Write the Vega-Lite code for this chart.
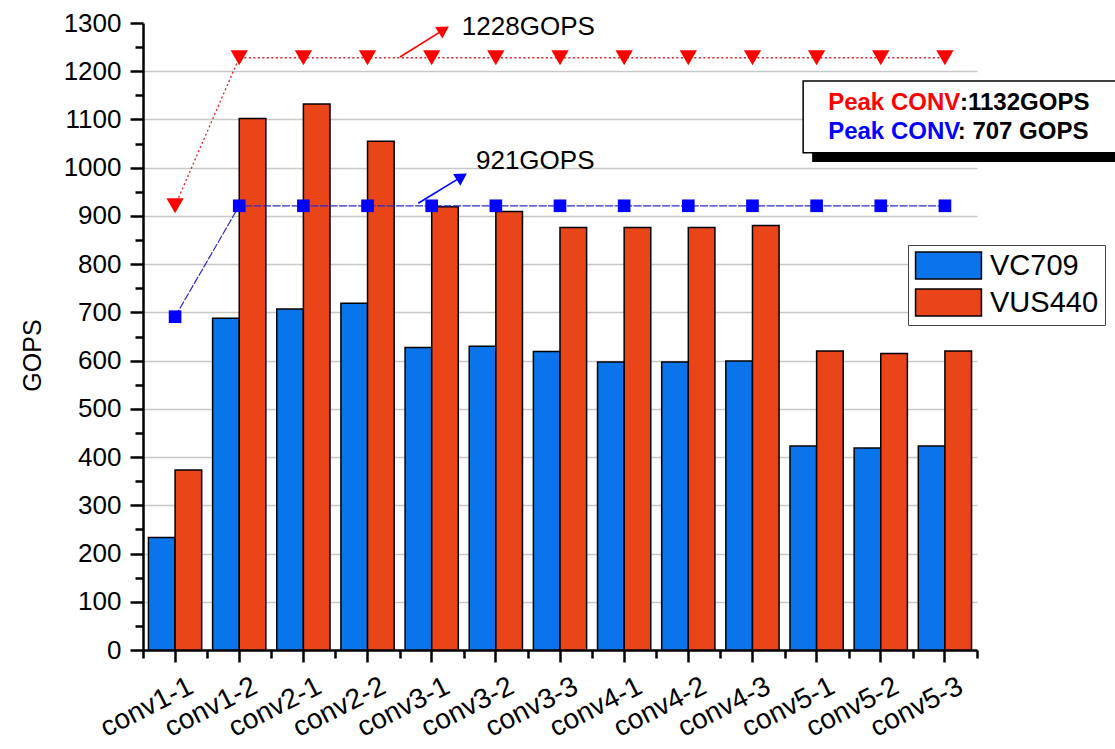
{
  "$schema": "https://vega.github.io/schema/vega-lite/v6.json",
  "width": 834,
  "height": 627,
  "autosize": {"type": "none"},
  "padding": {"left": 143, "top": 23, "right": 138, "bottom": 99},
  "background": "white",
  "config": {
    "font": "Liberation Sans",
    "numberFormat": "d",
    "view": {"stroke": null},
    "axis": {"labelFont": "Liberation Sans", "labelColor": "black", "tickColor": "black", "domainColor": "black", "titleColor": "black", "titleFont": "Liberation Sans", "labelFontSize": 26, "titleFontSize": 25, "titleFontWeight": "normal", "tickWidth": 2.5, "domainWidth": 2.5},
    "legend": {"labelFont": "Liberation Sans"}
  },
  "datasets": {
    "bars": [
      {"layer": "conv1-1", "board": "VC709", "gops": 233}, {"layer": "conv1-1", "board": "VUS440", "gops": 373},
      {"layer": "conv1-2", "board": "VC709", "gops": 688}, {"layer": "conv1-2", "board": "VUS440", "gops": 1102},
      {"layer": "conv2-1", "board": "VC709", "gops": 707}, {"layer": "conv2-1", "board": "VUS440", "gops": 1132},
      {"layer": "conv2-2", "board": "VC709", "gops": 719}, {"layer": "conv2-2", "board": "VUS440", "gops": 1055},
      {"layer": "conv3-1", "board": "VC709", "gops": 627}, {"layer": "conv3-1", "board": "VUS440", "gops": 919},
      {"layer": "conv3-2", "board": "VC709", "gops": 630}, {"layer": "conv3-2", "board": "VUS440", "gops": 909},
      {"layer": "conv3-3", "board": "VC709", "gops": 619}, {"layer": "conv3-3", "board": "VUS440", "gops": 876},
      {"layer": "conv4-1", "board": "VC709", "gops": 597}, {"layer": "conv4-1", "board": "VUS440", "gops": 876},
      {"layer": "conv4-2", "board": "VC709", "gops": 597}, {"layer": "conv4-2", "board": "VUS440", "gops": 876},
      {"layer": "conv4-3", "board": "VC709", "gops": 599}, {"layer": "conv4-3", "board": "VUS440", "gops": 880},
      {"layer": "conv5-1", "board": "VC709", "gops": 423}, {"layer": "conv5-1", "board": "VUS440", "gops": 620},
      {"layer": "conv5-2", "board": "VC709", "gops": 419}, {"layer": "conv5-2", "board": "VUS440", "gops": 615},
      {"layer": "conv5-3", "board": "VC709", "gops": 423}, {"layer": "conv5-3", "board": "VUS440", "gops": 620}
    ],
    "peaks": [
      {"layer": "conv1-1", "vus": 921, "vc": 691},
      {"layer": "conv1-2", "vus": 1228, "vc": 921},
      {"layer": "conv2-1", "vus": 1228, "vc": 921},
      {"layer": "conv2-2", "vus": 1228, "vc": 921},
      {"layer": "conv3-1", "vus": 1228, "vc": 921},
      {"layer": "conv3-2", "vus": 1228, "vc": 921},
      {"layer": "conv3-3", "vus": 1228, "vc": 921},
      {"layer": "conv4-1", "vus": 1228, "vc": 921},
      {"layer": "conv4-2", "vus": 1228, "vc": 921},
      {"layer": "conv4-3", "vus": 1228, "vc": 921},
      {"layer": "conv5-1", "vus": 1228, "vc": 921},
      {"layer": "conv5-2", "vus": 1228, "vc": 921},
      {"layer": "conv5-3", "vus": 1228, "vc": 921}
    ]
  },
  "resolve": {"scale": {"x": "independent"}, "axis": {"y": "independent", "x": "independent"}},
  "layer": [
    {
      "layer": [
        {
          "data": {"name": "bars"},
          "mark": {"type": "bar", "stroke": "black", "strokeWidth": 1.5},
          "encoding": {
            "x": {"field": "layer", "type": "nominal",
              "scale": {"paddingInner": 0.17, "paddingOuter": 0.085},
              "axis": {"title": null, "labelFontSize": 28, "labelAngle": -27, "labelAlign": "right", "labelBaseline": "top", "labelPadding": 10, "labelOffset": 10, "tickSize": 12, "grid": false}},
            "xOffset": {"field": "board", "type": "nominal", "scale": {"paddingInner": 0, "paddingOuter": 0}},
            "y": {"field": "gops", "type": "quantitative",
              "scale": {"domain": [0, 1300], "nice": false},
              "axis": {"title": "GOPS", "titleFontSize": 25, "titleFontWeight": "normal", "titlePadding": 18, "titleY": 332, "format": "d",
                "values": [0, 100, 200, 300, 400, 500, 600, 700, 800, 900, 1000, 1100, 1200, 1300],
                "labelFontSize": 26, "labelPadding": 9, "tickSize": 13,
                "grid": true, "gridWidth": 1.3,
                "gridColor": {"condition": {"test": "datum.value == 1300 || datum.value == 0", "value": "transparent"}, "value": "#c8c8c8"}}},
            "color": {"field": "board", "type": "nominal",
              "scale": {"domain": ["VC709", "VUS440"], "range": ["#0a74ea", "#e94519"]},
              "legend": {"title": null, "orient": "none", "legendX": 765, "legendY": 222,
                "symbolType": "M-2.44,-1H2.44V1H-2.44Z", "symbolSize": 729, "symbolOffset": 20, "symbolStrokeColor": "black", "symbolStrokeWidth": 1.5, "symbolOpacity": 1,
                "labelFontSize": 29, "labelOffset": 27, "padding": 6, "rowPadding": 4,
                "strokeColor": "#444444", "fillColor": "white"}}
          }
        },
        {
          "data": {"name": "peaks"},
          "mark": {"type": "line", "color": "#e02020", "strokeWidth": 1.3, "strokeDash": [2, 2.5]},
          "encoding": {"x": {"field": "layer", "type": "nominal"}, "y": {"field": "vus", "type": "quantitative"}}
        },
        {
          "data": {"name": "peaks"},
          "mark": {"type": "point", "shape": "triangle-down", "filled": true, "color": "#ff0000", "size": 300, "opacity": 1},
          "encoding": {"x": {"field": "layer", "type": "nominal"}, "y": {"field": "vus", "type": "quantitative"}}
        },
        {
          "data": {"name": "peaks"},
          "mark": {"type": "line", "color": "#2a2ac8", "strokeWidth": 1.2, "strokeDash": [8, 1.5]},
          "encoding": {"x": {"field": "layer", "type": "nominal"}, "y": {"field": "vc", "type": "quantitative"}}
        },
        {
          "data": {"name": "peaks"},
          "mark": {"type": "point", "shape": "square", "filled": true, "color": "#0000ff", "size": 160, "opacity": 1},
          "encoding": {"x": {"field": "layer", "type": "nominal"}, "y": {"field": "vc", "type": "quantitative"}}
        }
      ]
    },
    {
      "layer": [
        {
          "data": {"values": [{"x": 4.006, "y": 1229.5, "x2": 4.689, "y2": 1286.3}]},
          "mark": {"type": "rule", "color": "#ff0000", "strokeWidth": 1.6},
          "encoding": {
            "x": {"field": "x", "type": "quantitative", "scale": {"domain": [0, 13], "nice": false, "zero": false},
              "axis": {"orient": "bottom", "values": [0, 1, 2, 3, 4, 5, 6, 7, 8, 9, 10, 11, 12, 13], "labels": false, "domain": false, "grid": false, "tickSize": 8, "title": null}},
            "y": {"field": "y", "type": "quantitative",
              "axis": {"orient": "left", "values": [50, 150, 250, 350, 450, 550, 650, 750, 850, 950, 1050, 1150, 1250], "labels": false, "domain": false, "grid": false, "tickSize": 8, "title": null}},
            "x2": {"field": "x2"},
            "y2": {"field": "y2"}
          }
        },
        {
          "data": {"values": [{"x": 4.689, "y": 1286.3}]},
          "mark": {"type": "point", "shape": "triangle-up", "filled": true, "color": "#ff0000", "size": 190, "angle": 58, "opacity": 1},
          "encoding": {"x": {"field": "x", "type": "quantitative"}, "y": {"field": "y", "type": "quantitative"}}
        },
        {
          "data": {"values": [{"x": 4.291, "y": 926.2, "x2": 4.969, "y2": 981.4}]},
          "mark": {"type": "rule", "color": "#0000ff", "strokeWidth": 1.6},
          "encoding": {"x": {"field": "x", "type": "quantitative"}, "y": {"field": "y", "type": "quantitative"}, "x2": {"field": "x2"}, "y2": {"field": "y2"}}
        },
        {
          "data": {"values": [{"x": 4.969, "y": 981.4}]},
          "mark": {"type": "point", "shape": "triangle-up", "filled": true, "color": "#0000ff", "size": 190, "angle": 58, "opacity": 1},
          "encoding": {"x": {"field": "x", "type": "quantitative"}, "y": {"field": "y", "type": "quantitative"}}
        },
        {
          "data": {"values": [{"x": 4.97, "y": 1291.7, "label": "1228GOPS"}, {"x": 5.19, "y": 1013.9, "label": "921GOPS"}]},
          "mark": {"type": "text", "align": "left", "baseline": "middle", "fontSize": 26, "color": "black"},
          "encoding": {"x": {"field": "x", "type": "quantitative"}, "y": {"field": "y", "type": "quantitative"}, "text": {"field": "label"}}
        },
        {
          "data": {"values": [{"x": 10.43, "x2": 15.6, "y": 1012, "y2": 1031.5}]},
          "mark": {"type": "rect", "color": "black"},
          "encoding": {"x": {"field": "x", "type": "quantitative"}, "x2": {"field": "x2"}, "y": {"field": "y", "type": "quantitative"}, "y2": {"field": "y2"}}
        },
        {
          "data": {"values": [{"x": 10.29, "x2": 15.6, "y": 1031, "y2": 1180}]},
          "mark": {"type": "rect", "fill": "white", "stroke": "black", "strokeWidth": 1.5},
          "encoding": {"x": {"field": "x", "type": "quantitative"}, "x2": {"field": "x2"}, "y": {"field": "y", "type": "quantitative"}, "y2": {"field": "y2"}}
        },
        {
          "data": {"values": [{"x": 10.68, "y": 1134.8, "label": "Peak CONV"}]},
          "mark": {"type": "text", "align": "left", "baseline": "middle", "fontSize": 24, "fontWeight": "bold", "color": "#ff0000"},
          "encoding": {"x": {"field": "x", "type": "quantitative"}, "y": {"field": "y", "type": "quantitative"}, "text": {"field": "label"}}
        },
        {
          "data": {"values": [{"x": 10.68, "y": 1074.7, "label": "Peak CONV"}]},
          "mark": {"type": "text", "align": "left", "baseline": "middle", "fontSize": 24, "fontWeight": "bold", "color": "#0000ff"},
          "encoding": {"x": {"field": "x", "type": "quantitative"}, "y": {"field": "y", "type": "quantitative"}, "text": {"field": "label"}}
        },
        {
          "data": {"values": [{"x": 12.735, "y": 1134.8, "label": ":1132GOPS"}, {"x": 12.70, "y": 1074.7, "label": ": 707 GOPS"}]},
          "mark": {"type": "text", "align": "left", "baseline": "middle", "fontSize": 24, "fontWeight": "bold", "color": "black"},
          "encoding": {"x": {"field": "x", "type": "quantitative"}, "y": {"field": "y", "type": "quantitative"}, "text": {"field": "label"}}
        }
      ]
    }
  ]
}
